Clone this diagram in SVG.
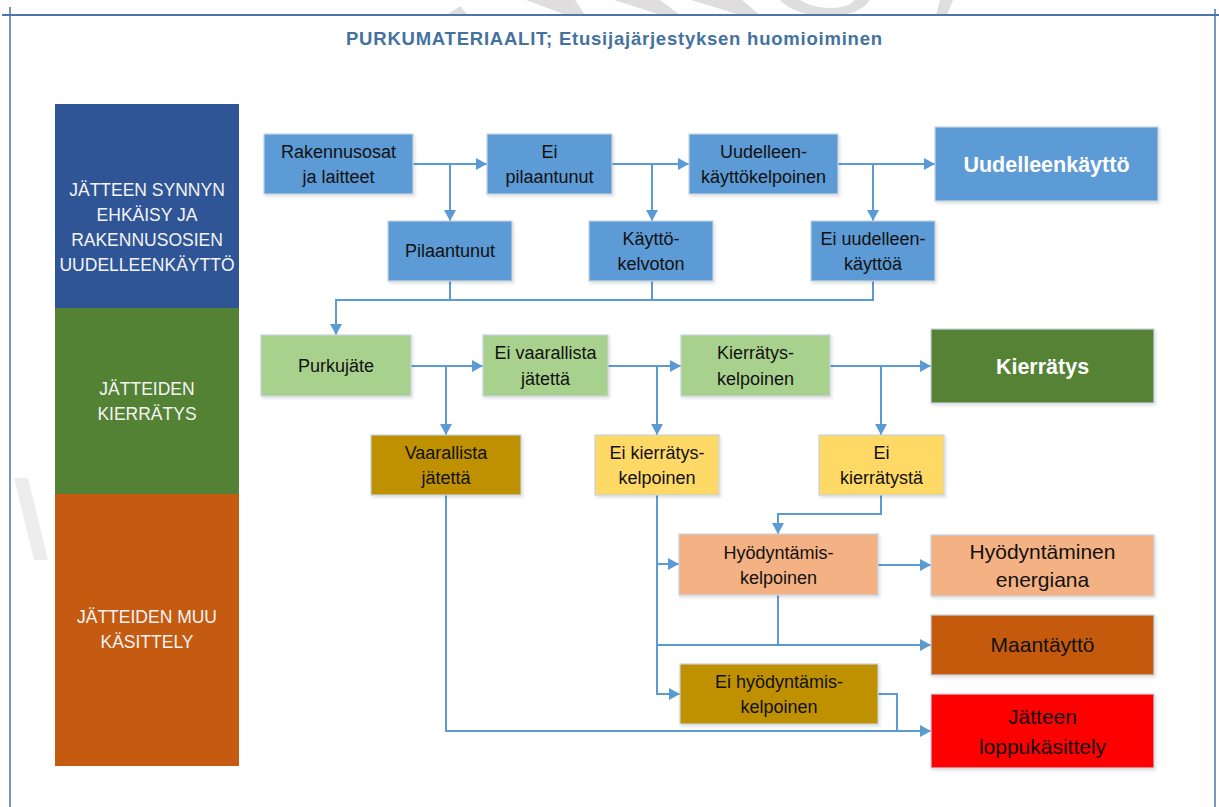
<svg xmlns="http://www.w3.org/2000/svg" width="1219" height="807" viewBox="0 0 1219 807">
<style>
  .frame{stroke:#4a76a8;fill:none}
  .wm{fill:#dedede}
  .band text{font-family:"Liberation Sans",Arial,sans-serif;font-size:17.5px;fill:#f4f4f4;text-anchor:middle}
  .node rect{stroke:#c8d3e0;stroke-width:1.2;filter:url(#sh)}
  .node text{font-family:"Liberation Sans",Arial,sans-serif;font-size:18px;fill:#111;text-anchor:middle}
  .node text.big{font-size:21.5px;font-weight:bold;fill:#fff}
  .node text.mid{font-size:21px}
  .blue{fill:#5b9bd5}
  .lgreen{fill:#a9d18e}
  .dgreen{fill:#548235}
  .gold{fill:#bf9000}
  .yellow{fill:#ffd966}
  .peach{fill:#f4b183}
  .brown{fill:#c55a11}
  .red{fill:#ff0000}
  #connectors path{stroke:#5b9bd5;stroke-width:2;fill:none}
  #connectors path.a{marker-end:url(#arr)}
</style>
<defs>
  <marker id="arr" markerUnits="userSpaceOnUse" markerWidth="12" markerHeight="13" refX="11" refY="6" orient="auto">
    <path d="M0,0 L11,6 L0,12 Z" fill="#5b9bd5"/>
  </marker>
  <filter id="sh" x="-10%" y="-10%" width="125%" height="135%">
    <feDropShadow dx="1.5" dy="2" stdDeviation="1.5" flood-color="#000" flood-opacity="0.12"/>
  </filter>
</defs>
<rect x="0" y="0" width="1219" height="807" fill="#fff"/>

<!-- faint watermark fragments -->
<g id="watermark">
  <polygon class="wm" points="447,15 468,15 460,6"/>
  <polygon class="wm" points="526,0 575,0 585,15 566,15"/>
  <polygon class="wm" points="614,0 660,0 680,15 661,15"/>
  <polygon class="wm" points="691,0 742,0 760,15 740,15"/>
  <path class="wm" d="M780,0 Q795,16 830,16 Q860,15 870,0 L855,0 Q848,8 830,8 Q813,8 800,0 Z"/>
  <polygon class="wm" points="940,0 953,0 947,15 936,15"/>
  <polygon class="wm" points="14,478 28,478 48,560 34,560" opacity="0.55"/>
</g>

<!-- page frame -->
<g id="frame">
  <line class="frame" x1="2" y1="15" x2="1219" y2="15" stroke-width="2"/>
  <line class="frame" x1="10" y1="7" x2="10" y2="807" stroke-width="1.5"/>
  <line class="frame" x1="1215" y1="9" x2="1215" y2="807" stroke-width="1.5"/>
</g>

<text x="614" y="45" font-family="'Liberation Sans',Arial,sans-serif" font-size="18.5" font-weight="bold" fill="#44729f" text-anchor="middle" textLength="536" lengthAdjust="spacing">PURKUMATERIAALIT; Etusijajärjestyksen huomioiminen</text>

<!-- left bands -->
<g id="band1" class="band">
  <rect x="55" y="104" width="184" height="204" fill="#2f5597"/>
  <text x="147" y="196">JÄTTEEN SYNNYN</text>
  <text x="147" y="221">EHKÄISY JA</text>
  <text x="147" y="246">RAKENNUSOSIEN</text>
  <text x="147" y="271">UUDELLEENKÄYTTÖ</text>
</g>
<g id="band2" class="band">
  <rect x="55" y="308" width="184" height="186" fill="#548235"/>
  <text x="147" y="395">JÄTTEIDEN</text>
  <text x="147" y="420">KIERRÄTYS</text>
</g>
<g id="band3" class="band">
  <rect x="55" y="494" width="184" height="272" fill="#c55a11"/>
  <text x="147" y="623">JÄTTEIDEN MUU</text>
  <text x="147" y="648">KÄSITTELY</text>
</g>

<!-- connectors -->
<g id="connectors">
  <path class="a" d="M413,164 H487"/>
  <path class="a" d="M450,164 V221"/>
  <path class="a" d="M612,164 H689"/>
  <path class="a" d="M652,164 V221"/>
  <path class="a" d="M838,164 H935"/>
  <path class="a" d="M873,164 V221"/>
  <path d="M450,281 V300"/>
  <path d="M652,281 V300"/>
  <path class="a" d="M873,281 V300 H336 V335"/>
  <path class="a" d="M411,366 H483"/>
  <path class="a" d="M446,366 V435"/>
  <path class="a" d="M608,366 H681"/>
  <path class="a" d="M657,366 V435"/>
  <path class="a" d="M830,366 H931"/>
  <path class="a" d="M881,366 V435"/>
  <path class="a" d="M881,495 V514 H778 V534"/>
  <path class="a" d="M657,495 V694 H680"/>
  <path class="a" d="M657,564 H679"/>
  <path class="a" d="M657,645 H931"/>
  <path d="M778,595 V645"/>
  <path class="a" d="M878,565 H931"/>
  <path class="a" d="M878,694 H897 V731 H931"/>
  <path d="M446,495 V731 H898"/>
</g>

<!-- nodes row 1 -->
<g id="n-rakennusosat" class="node">
  <rect class="blue" x="264" y="134" width="149" height="60"/>
  <text x="338.5" y="158">Rakennusosat</text>
  <text x="338.5" y="183">ja laitteet</text>
</g>
<g id="n-ei-pilaantunut" class="node">
  <rect class="blue" x="487" y="134" width="125" height="60"/>
  <text x="549.5" y="158">Ei</text>
  <text x="549.5" y="183">pilaantunut</text>
</g>
<g id="n-uudelleenkayttokelpoinen" class="node">
  <rect class="blue" x="689" y="134" width="149" height="60"/>
  <text x="763.5" y="158">Uudelleen-</text>
  <text x="763.5" y="183">käyttökelpoinen</text>
</g>
<g id="n-uudelleenkaytto" class="node">
  <rect class="blue" x="935" y="127" width="223" height="74"/>
  <text class="big" x="1046.5" y="171.5">Uudelleenkäyttö</text>
</g>
<g id="n-pilaantunut" class="node">
  <rect class="blue" x="388" y="221" width="124" height="60"/>
  <text x="450" y="257">Pilaantunut</text>
</g>
<g id="n-kayttokelvoton" class="node">
  <rect class="blue" x="589" y="221" width="124" height="60"/>
  <text x="651" y="245">Käyttö-</text>
  <text x="651" y="270">kelvoton</text>
</g>
<g id="n-ei-uudelleenkayttoa" class="node">
  <rect class="blue" x="811" y="221" width="124" height="60"/>
  <text x="873" y="245">Ei uudelleen-</text>
  <text x="873" y="270">käyttöä</text>
</g>

<!-- nodes row 2 -->
<g id="n-purkujate" class="node">
  <rect class="lgreen" x="261" y="335" width="150" height="61"/>
  <text x="336" y="372">Purkujäte</text>
</g>
<g id="n-ei-vaarallista" class="node">
  <rect class="lgreen" x="483" y="335" width="125" height="61"/>
  <text x="545.5" y="359">Ei vaarallista</text>
  <text x="545.5" y="385">jätettä</text>
</g>
<g id="n-kierratyskelpoinen" class="node">
  <rect class="lgreen" x="681" y="335" width="149" height="61"/>
  <text x="755.5" y="359">Kierrätys-</text>
  <text x="755.5" y="385">kelpoinen</text>
</g>
<g id="n-kierratys" class="node">
  <rect class="dgreen" x="931" y="329" width="223" height="74"/>
  <text class="big" x="1042.5" y="373.5">Kierrätys</text>
</g>
<g id="n-vaarallista" class="node">
  <rect class="gold" x="371" y="435" width="150" height="60"/>
  <text x="446" y="459">Vaarallista</text>
  <text x="446" y="484">jätettä</text>
</g>
<g id="n-ei-kierratyskelpoinen" class="node">
  <rect class="yellow" x="595" y="435" width="124" height="60"/>
  <text x="657" y="459">Ei kierrätys-</text>
  <text x="657" y="484">kelpoinen</text>
</g>
<g id="n-ei-kierratysta" class="node">
  <rect class="yellow" x="819" y="435" width="125" height="60"/>
  <text x="881.5" y="459">Ei</text>
  <text x="881.5" y="484">kierrätystä</text>
</g>

<!-- nodes row 3 -->
<g id="n-hyodyntamiskelpoinen" class="node">
  <rect class="peach" x="679" y="534" width="199" height="61"/>
  <text x="778.5" y="559">Hyödyntämis-</text>
  <text x="778.5" y="584">kelpoinen</text>
</g>
<g id="n-ei-hyodyntamiskelpoinen" class="node">
  <rect class="gold" x="680" y="664" width="198" height="60"/>
  <text x="779" y="688">Ei hyödyntämis-</text>
  <text x="779" y="713">kelpoinen</text>
</g>
<g id="n-energiana" class="node">
  <rect class="peach" x="931" y="535" width="223" height="61"/>
  <text class="mid" x="1042.5" y="559">Hyödyntäminen</text>
  <text class="mid" x="1042.5" y="587">energiana</text>
</g>
<g id="n-maantaytto" class="node">
  <rect class="brown" x="931" y="615" width="223" height="60"/>
  <text class="mid" x="1042.5" y="652">Maantäyttö</text>
</g>
<g id="n-loppukasittely" class="node">
  <rect class="red" x="931" y="694" width="223" height="74"/>
  <text class="mid" x="1042.5" y="724">Jätteen</text>
  <text class="mid" x="1042.5" y="754">loppukäsittely</text>
</g>
</svg>
